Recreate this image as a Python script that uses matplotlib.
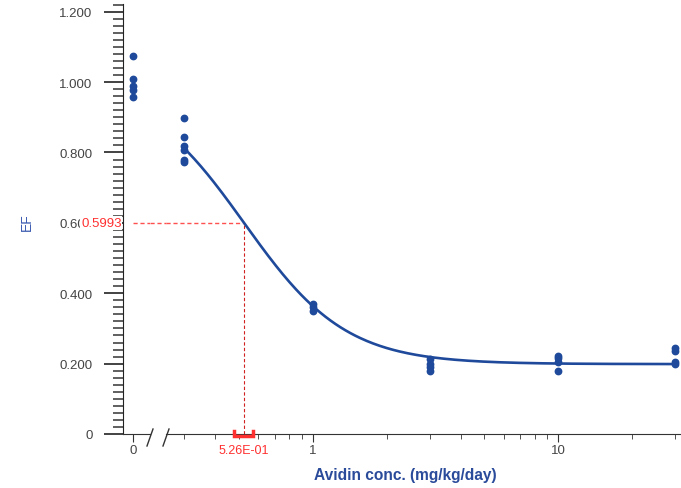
import numpy as np
import matplotlib
matplotlib.use("Agg")
import matplotlib.pyplot as plt
from matplotlib.ticker import FixedLocator, NullFormatter, MultipleLocator
import matplotlib.transforms as mtransforms

plt.rcParams["font.family"] = ["Liberation Sans", "DejaVu Sans"]

# measured EF per dose group
zero_ef = [1.073, 1.008, 0.988, 0.978, 0.957]
dose_levels = [0.3, 1, 3, 10, 30]
ef_03 = [0.898, 0.843, 0.818, 0.808, 0.780, 0.772]
ef_1 = [0.370, 0.362, 0.350]
ef_3 = [0.212, 0.200, 0.190, 0.180]
ef_10 = [0.222, 0.215, 0.205, 0.180]
ef_30 = [0.245, 0.235, 0.205, 0.200]
ef_groups = [ef_03, ef_1, ef_3, ef_10, ef_30]

# 4PL fit
fit_top = 1.0
fit_bottom = 0.1986
fit_ec50 = 0.526
fit_hill = 2.1
ec50_ci = [0.477, 0.570]
mid_ef = 0.5993

y_ticks = [0, 0.2, 0.4, 0.6, 0.8, 1.0, 1.2]
y_labels = ["0", "0.200", "0.400", "0.600", "0.800", "1.000", "1.200"]

blue = "#1f4a9b"
red = "#ff3030"
W, H = 681, 489

fig = plt.figure(figsize=(6.81, 4.89), dpi=100)
ax0 = fig.add_axes([123 / W, 54 / H, 27 / W, 430 / H])
ax = fig.add_axes([166 / W, 54 / H, 515 / W, 430 / H], sharey=ax0)

ymax = 1.222
ax0.set_ylim(0, ymax)
ax0.set_xlim(-10, 17)
ax.set_xscale("log")
ax.set_xlim(0.2526, 31.6)

# zero dose group
ax0.plot([0] * len(zero_ef), zero_ef, "o", color=blue, ms=4.6, mec=blue, clip_on=False)

# dosed groups
for d, vals in zip(dose_levels, ef_groups):
    ax.plot([d] * len(vals), vals, "o", color=blue, ms=4.6, mec=blue, clip_on=False, zorder=3)

xs = np.logspace(np.log10(dose_levels[0]), np.log10(dose_levels[-1]), 300)
ys = fit_bottom + (fit_top - fit_bottom) / (1 + (xs / fit_ec50) ** fit_hill)
ax.plot(xs, ys, color=blue, lw=1.9, clip_on=False, zorder=3)

# spines
for s in ["top", "right"]:
    ax0.spines[s].set_visible(False)
for s in ["top", "right", "left"]:
    ax.spines[s].set_visible(False)
for a in (ax0, ax):
    a.spines["bottom"].set_color("#333333")
ax0.spines["left"].set_color("#222222")

# y axis ticks
ax0.set_yticks(y_ticks)
ax0.set_yticklabels(y_labels)
ax0.yaxis.set_minor_locator(MultipleLocator(0.02))
ax0.tick_params(axis="y", which="major", length=14, width=1.2, color="#222222",
                labelsize=9.5, labelcolor="#444444", pad=8)
ax0.tick_params(axis="y", which="minor", length=7, width=1.2, color="#444444")
ax.tick_params(axis="y", which="both", left=False, labelleft=False)

# x axis ticks
ax0.set_xticks([0])
ax0.set_xticklabels(["0"])
ax0.tick_params(axis="x", which="major", length=6, color="#333333", labelsize=9.5,
                labelcolor="#444444", pad=1)
ax.xaxis.set_major_locator(FixedLocator([1, 10]))
ax.set_xticklabels(["1", "10"])
minors = [m * 10.0 ** e for e in (-1, 0, 1) for m in range(2, 10)]
minors = [v for v in minors if 0.26 < v < 31.6]
ax.xaxis.set_minor_locator(FixedLocator(minors))
ax.xaxis.set_minor_formatter(NullFormatter())
ax.tick_params(axis="x", which="major", length=6, color="#333333", labelsize=9.5,
               labelcolor="#444444", pad=1)
ax.tick_params(axis="x", which="minor", length=3.5, color="#333333")

# axis break marks
for px in (150, 166):
    fig.add_artist(plt.Line2D([(px - 3) / W, (px + 3) / W], [(489 - 447) / H, (489 - 430) / H],
                              color="#333333", lw=1))

# labels
fig.text(27 / W, (489 - 222) / H, "EF", rotation=90, color="#3a5ab0",
         fontsize=10, ha="center", va="center")
fig.text(405 / W, (489 - 476) / H, "Avidin conc. (mg/kg/day)", color="#2a4a9a",
         fontsize=11.2, fontweight="bold", ha="center", va="center")

# EC50 guide lines
dash = (0, (3, 2))
ax0.plot([0, 17], [mid_ef, mid_ef], ls=dash, color="#ff5050", lw=1)
gap_trans = mtransforms.blended_transform_factory(fig.transFigure, ax.transData)
fig.add_artist(plt.Line2D([150 / W, 166 / W], [mid_ef, mid_ef], transform=gap_trans,
                          ls=dash, color="#ff5050", lw=1))
ax.plot([0.2526, fit_ec50], [mid_ef, mid_ef], ls=dash, color="#ff5050", lw=1, clip_on=False)
ax.plot([fit_ec50, fit_ec50], [0, mid_ef], ls=dash, color="#d02020", lw=0.8)

ax0.text(-0.05, mid_ef, "0.5993", color=red, fontsize=9.5, ha="right", va="center",
         transform=ax0.get_yaxis_transform(),
         bbox=dict(facecolor="white", edgecolor="none", pad=0.5), zorder=5, clip_on=False)

trans = mtransforms.blended_transform_factory(ax.transData, ax.transAxes)
ax.plot([ec50_ci[0], ec50_ci[0], ec50_ci[1], ec50_ci[1]], [0.008, -0.005, -0.005, 0.008],
        color=red, lw=2.5, transform=trans, clip_on=False, zorder=5, solid_joinstyle="miter")
ax.text(fit_ec50, -0.024, "5.26E-01", color=red, fontsize=9, ha="center", va="top",
        transform=trans)

fig.savefig("out.png", dpi=100, facecolor="white")
